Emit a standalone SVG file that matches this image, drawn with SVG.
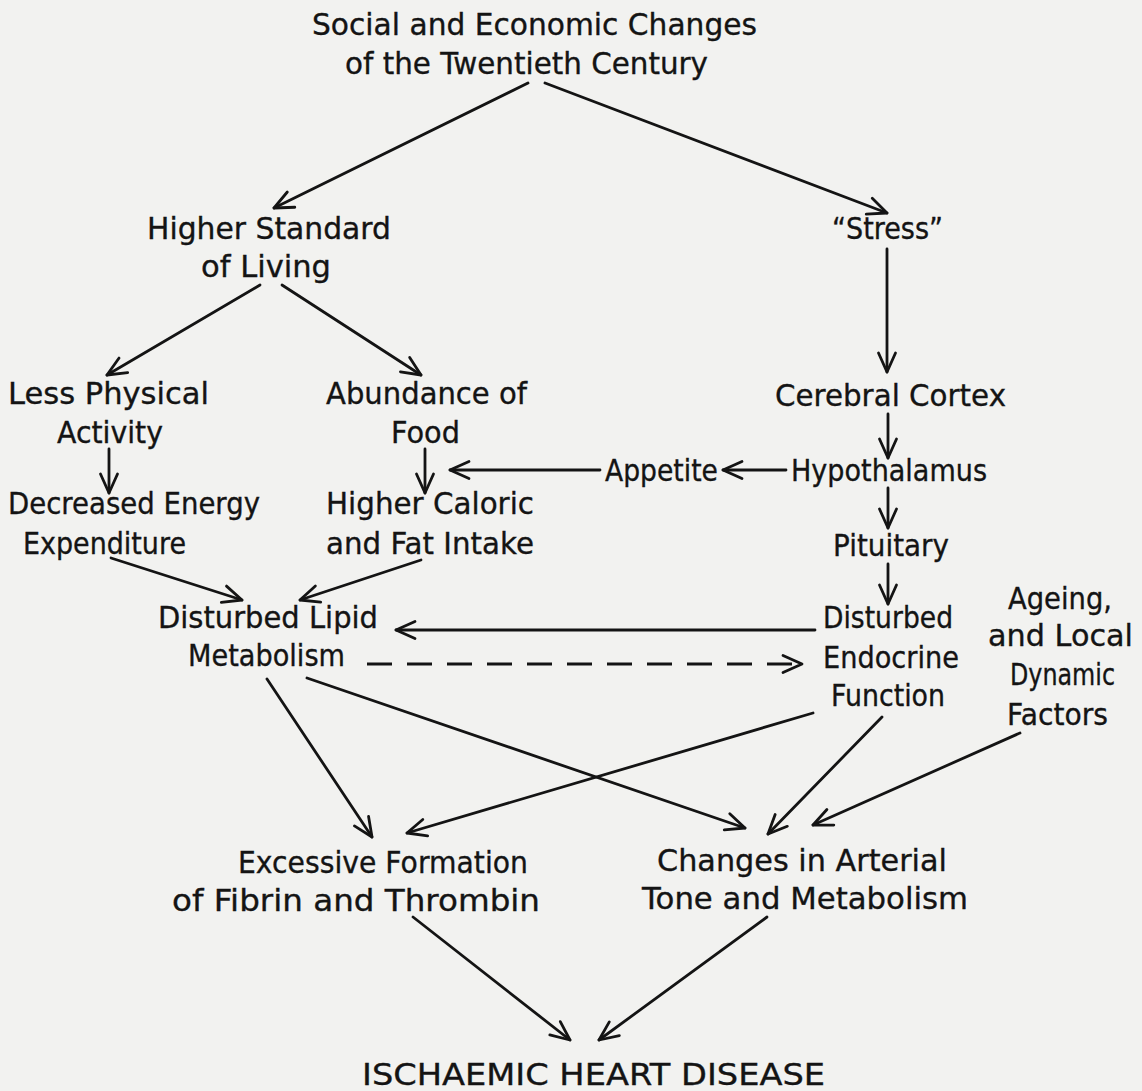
<svg xmlns="http://www.w3.org/2000/svg" width="1142" height="1091" viewBox="0 0 1142 1091">
<style>
text{font-family:"DejaVu Sans","Liberation Sans",sans-serif;font-size:30px;fill:#141414;stroke:#141414;stroke-width:0.35;}
.c{stroke:#141414;stroke-width:2.8;fill:none;stroke-linecap:round;}
.d{stroke-dasharray:25 15;stroke-linecap:butt;}
</style>
<defs>
<marker id="ah" viewBox="0 0 24 24" refX="21" refY="12" markerWidth="24" markerHeight="24" markerUnits="userSpaceOnUse" orient="auto">
<path d="M2,3.5 L21,12 L2,20.5" fill="none" stroke="#141414" stroke-width="2.8" stroke-linecap="round" stroke-linejoin="round"/>
</marker>
</defs>
<rect width="1142" height="1091" fill="#f2f2f0"/>
<g id="connectors">
<line class="c" x1="528" y1="83" x2="274" y2="208" marker-end="url(#ah)"/>
<line class="c" x1="545" y1="83" x2="887" y2="213" marker-end="url(#ah)"/>
<line class="c" x1="887" y1="249" x2="887" y2="372" marker-end="url(#ah)"/>
<line class="c" x1="260" y1="285" x2="107" y2="375" marker-end="url(#ah)"/>
<line class="c" x1="282" y1="285" x2="421" y2="375" marker-end="url(#ah)"/>
<line class="c" x1="109" y1="449" x2="109" y2="493" marker-end="url(#ah)"/>
<line class="c" x1="425" y1="449" x2="425" y2="493" marker-end="url(#ah)"/>
<line class="c" x1="600" y1="470" x2="450" y2="470" marker-end="url(#ah)"/>
<line class="c" x1="786" y1="470" x2="723" y2="470" marker-end="url(#ah)"/>
<line class="c" x1="888" y1="414" x2="888" y2="458" marker-end="url(#ah)"/>
<line class="c" x1="888" y1="488" x2="888" y2="528" marker-end="url(#ah)"/>
<line class="c" x1="888" y1="564" x2="888" y2="604" marker-end="url(#ah)"/>
<line class="c" x1="111" y1="558" x2="242" y2="600" marker-end="url(#ah)"/>
<line class="c" x1="421" y1="560" x2="300" y2="600" marker-end="url(#ah)"/>
<line class="c" x1="815" y1="630" x2="396" y2="630" marker-end="url(#ah)"/>
<line class="c d" x1="367" y1="664" x2="802" y2="664" marker-end="url(#ah)"/>
<line class="c" x1="267" y1="679" x2="372" y2="837" marker-end="url(#ah)"/>
<line class="c" x1="307" y1="678" x2="745" y2="828" marker-end="url(#ah)"/>
<line class="c" x1="813" y1="713" x2="407" y2="833" marker-end="url(#ah)"/>
<line class="c" x1="882" y1="717" x2="768" y2="834" marker-end="url(#ah)"/>
<line class="c" x1="1020" y1="733" x2="813" y2="825" marker-end="url(#ah)"/>
<line class="c" x1="413" y1="917" x2="570" y2="1040" marker-end="url(#ah)"/>
<line class="c" x1="767" y1="917" x2="599" y2="1040" marker-end="url(#ah)"/>
</g>
<g id="n-social"><text x="312" y="35" textLength="445" lengthAdjust="spacingAndGlyphs">Social and Economic Changes</text><text x="345" y="74" textLength="363" lengthAdjust="spacingAndGlyphs">of the Twentieth Century</text></g>
<g id="n-higher"><text x="147" y="239" textLength="244" lengthAdjust="spacingAndGlyphs">Higher Standard</text><text x="201" y="277" textLength="130" lengthAdjust="spacingAndGlyphs">of Living</text></g>
<g id="n-stress"><text x="832" y="239" textLength="111" lengthAdjust="spacingAndGlyphs">“Stress”</text></g>
<g id="n-less"><text x="8" y="404" textLength="201" lengthAdjust="spacingAndGlyphs">Less Physical</text><text x="57" y="443" textLength="106" lengthAdjust="spacingAndGlyphs">Activity</text></g>
<g id="n-abundance"><text x="326" y="404" textLength="201" lengthAdjust="spacingAndGlyphs">Abundance of</text><text x="391" y="443" textLength="69" lengthAdjust="spacingAndGlyphs">Food</text></g>
<g id="n-cortex"><text x="775" y="406" textLength="231" lengthAdjust="spacingAndGlyphs">Cerebral Cortex</text></g>
<g id="n-appetite"><text x="605" y="481" textLength="113" lengthAdjust="spacingAndGlyphs">Appetite</text></g>
<g id="n-hypothalamus"><text x="791" y="481" textLength="196" lengthAdjust="spacingAndGlyphs">Hypothalamus</text></g>
<g id="n-decreased"><text x="8" y="514" textLength="252" lengthAdjust="spacingAndGlyphs">Decreased Energy</text><text x="23" y="554" textLength="163" lengthAdjust="spacingAndGlyphs">Expenditure</text></g>
<g id="n-caloric"><text x="326" y="514" textLength="208" lengthAdjust="spacingAndGlyphs">Higher Caloric</text><text x="326" y="554" textLength="208" lengthAdjust="spacingAndGlyphs">and Fat Intake</text></g>
<g id="n-pituitary"><text x="833" y="556" textLength="116" lengthAdjust="spacingAndGlyphs">Pituitary</text></g>
<g id="n-lipid"><text x="158" y="628" textLength="220" lengthAdjust="spacingAndGlyphs">Disturbed Lipid</text><text x="188" y="666" textLength="157" lengthAdjust="spacingAndGlyphs">Metabolism</text></g>
<g id="n-endocrine"><text x="823" y="628" textLength="130" lengthAdjust="spacingAndGlyphs">Disturbed</text><text x="823" y="668" textLength="136" lengthAdjust="spacingAndGlyphs">Endocrine</text><text x="831" y="706" textLength="114" lengthAdjust="spacingAndGlyphs">Function</text></g>
<g id="n-ageing"><text x="1008" y="609" textLength="104" lengthAdjust="spacingAndGlyphs">Ageing,</text><text x="988" y="646" textLength="145" lengthAdjust="spacingAndGlyphs">and Local</text><text x="1010" y="685" textLength="105" lengthAdjust="spacingAndGlyphs">Dynamic</text><text x="1007" y="725" textLength="101" lengthAdjust="spacingAndGlyphs">Factors</text></g>
<g id="n-fibrin"><text x="238" y="873" textLength="290" lengthAdjust="spacingAndGlyphs">Excessive Formation</text><text x="172" y="911" textLength="368" lengthAdjust="spacingAndGlyphs">of Fibrin and Thrombin</text></g>
<g id="n-arterial"><text x="657" y="871" textLength="290" lengthAdjust="spacingAndGlyphs">Changes in Arterial</text><text x="642" y="909" textLength="326" lengthAdjust="spacingAndGlyphs">Tone and Metabolism</text></g>
<g id="n-ihd"><text x="362" y="1085" textLength="463" lengthAdjust="spacingAndGlyphs" style="font-size:31px">ISCHAEMIC HEART DISEASE</text></g>
</svg>
